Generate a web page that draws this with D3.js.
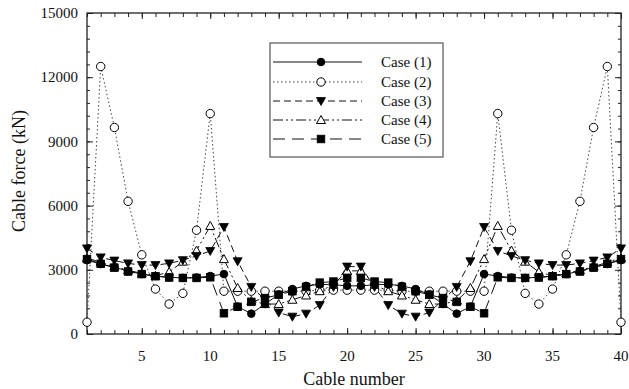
<!DOCTYPE html>
<html><head><meta charset="utf-8">
<script src="https://cdn.jsdelivr.net/npm/d3@7"></script>
<style>
body{margin:0;background:#fff;}
svg{display:block;}
text{font-family:"Liberation Serif","Times New Roman",serif;fill:#111;}
</style></head>
<body><svg id="c" width="629" height="389"></svg>
<script>
const cables = [1,2,3,4,5,6,7,8,9,10,11,12,13,14,15,16,17,18,19,20,21,22,23,24,25,26,27,28,29,30,31,32,33,34,35,36,37,38,39,40];
const case1 = [3450,3270,3120,2940,2800,2710,2650,2620,2640,2710,2800,1280,950,1400,1850,2100,2250,2320,2300,2250,2250,2300,2320,2250,2100,1850,1400,950,1280,2800,2710,2640,2620,2650,2710,2800,2940,3120,3270,3450];
const case2 = [550,12500,9650,6200,3700,2100,1400,1900,4850,10300,2000,2000,2000,2000,2000,2000,2000,2050,2050,2050,2050,2050,2050,2000,2000,2000,2000,2000,2000,2000,10300,4850,1900,1400,2100,3700,6200,9650,12500,550];
const case3 = [4000,3580,3430,3300,3220,3220,3300,3450,3650,3880,5000,3400,2200,1600,1000,810,950,1350,2200,3150,3150,2200,1350,950,810,1000,1600,2200,3400,5000,3880,3650,3450,3300,3220,3220,3300,3430,3580,4000];
const case4 = [3550,3350,3150,2980,2830,2720,2900,3380,3900,5050,3500,2150,1550,1400,1400,1600,1800,2000,2300,2950,2950,2300,2000,1800,1600,1400,1400,1550,2150,3500,5050,3900,3380,2900,2720,2830,2980,3150,3350,3550];
const case5 = [3500,3280,3100,2920,2800,2700,2640,2620,2620,2650,970,1270,1500,1680,1830,2000,2200,2400,2450,2620,2620,2450,2400,2200,2000,1830,1680,1500,1270,970,2650,2620,2620,2640,2700,2800,2920,3100,3280,3500];
const seriesNames = ["Case (1)","Case (2)","Case (3)","Case (4)","Case (5)"];
const yTicks = [0,3000,6000,9000,12000,15000];
const xTicks = [5,10,15,20,25,30,35,40];

const svg = d3.select("#c");
const L=87,R=621,T=13,B=334;
const x = d3.scaleLinear().domain([1,40]).range([L,R]);
const y = d3.scaleLinear().domain([0,15000]).range([B,T]);

const styles = [
  {data:case1, dash:null, marker:"circle", fill:"#000"},
  {data:case2, dash:"1.5,2.5", marker:"circle", fill:"#fff"},
  {data:case3, dash:"7,4", marker:"tridown", fill:"#000"},
  {data:case4, dash:"10,3,2,3,2,3", marker:"triup", fill:"#fff"},
  {data:case5, dash:"12,7", marker:"square", fill:"#000"}
];

// axes (ticks inward)
const minorY = d3.range(0,15001,600);
const minorX = cables;
function drawAxis(axis, tr, cls){
  const g = svg.append("g").attr("transform",tr).call(axis);
  g.select(".domain").remove();
  g.selectAll("line").attr("stroke","#222").attr("stroke-width",1);
  g.selectAll("text").remove();
  return g;
}
drawAxis(d3.axisBottom(x).tickValues(minorX).tickSize(-4), `translate(0,${B})`);
drawAxis(d3.axisBottom(x).tickValues(xTicks).tickSize(-6), `translate(0,${B})`);
drawAxis(d3.axisTop(x).tickValues(minorX).tickSize(-4), `translate(0,${T})`);
drawAxis(d3.axisTop(x).tickValues(xTicks).tickSize(-6), `translate(0,${T})`);
drawAxis(d3.axisLeft(y).tickValues(minorY).tickSize(-3), `translate(${L},0)`);
drawAxis(d3.axisLeft(y).tickValues(yTicks).tickSize(-6), `translate(${L},0)`);
drawAxis(d3.axisRight(y).tickValues(minorY).tickSize(-3), `translate(${R},0)`);
drawAxis(d3.axisRight(y).tickValues(yTicks).tickSize(-6), `translate(${R},0)`);

svg.append("rect").attr("x",L).attr("y",T).attr("width",R-L).attr("height",B-T)
  .attr("fill","none").attr("stroke","#222").attr("stroke-width",1.3);

// tick labels
svg.append("g").selectAll("text").data(yTicks).join("text")
  .attr("x",78).attr("y",d=>y(d)).attr("dy","0.35em").attr("text-anchor","end")
  .attr("font-size",15).text(d=>d);
svg.append("g").selectAll("text").data(xTicks).join("text")
  .attr("x",d=>x(d)).attr("y",361).attr("text-anchor","middle")
  .attr("font-size",15).text(d=>d);

svg.append("text").attr("x",(L+R)/2).attr("y",385).attr("text-anchor","middle")
  .attr("font-size",18).text("Cable number");
svg.append("text").attr("transform","translate(25,171) rotate(-90)").attr("text-anchor","middle")
  .attr("font-size",18).text("Cable force (kN)");

function marker(g, type, fill, cx, cy){
  if(type==="circle"){
    g.append("circle").attr("cx",cx).attr("cy",cy).attr("r",fill==="#fff"?4.2:3.8)
      .attr("fill",fill).attr("stroke","#000").attr("stroke-width",1);
  } else if(type==="square"){
    g.append("rect").attr("x",cx-3.8).attr("y",cy-3.8).attr("width",7.6).attr("height",7.6)
      .attr("fill",fill).attr("stroke","#000").attr("stroke-width",0.8);
  } else if(type==="tridown"){
    g.append("path").attr("d",`M${cx-4.5},${cy-3.5}L${cx+4.5},${cy-3.5}L${cx},${cy+4.5}Z`)
      .attr("fill",fill).attr("stroke","#000").attr("stroke-width",0.8);
  } else {
    g.append("path").attr("d",`M${cx-4.5},${cy+3.5}L${cx+4.5},${cy+3.5}L${cx},${cy-4.5}Z`)
      .attr("fill",fill).attr("stroke","#000").attr("stroke-width",1);
  }
}

const line = d3.line().x((d,i)=>x(cables[i])).y(d=>y(d));
const order = [1,3,2,4,0];
order.forEach(si=>{
  const s = styles[si];
  svg.append("path").datum(s.data).attr("d",line).attr("fill","none")
    .attr("stroke", si===1?"#444":"#111").attr("stroke-width",1)
    .attr("stroke-dasharray",s.dash);
});
order.forEach(si=>{
  const s = styles[si];
  const g = svg.append("g");
  s.data.forEach((v,i)=>marker(g,s.marker,s.fill,x(cables[i]),y(v)));
});

// legend
const lg = svg.append("g");
lg.append("rect").attr("x",270).attr("y",43).attr("width",173).attr("height",114)
  .attr("fill","#fff").attr("stroke","#555").attr("stroke-width",1.2);
const rowsY = [62,82,101,120,139];
styles.forEach((s,i)=>{
  const yy = rowsY[i];
  lg.append("line").attr("x1",273).attr("x2",362).attr("y1",yy).attr("y2",yy)
    .attr("stroke",i===1?"#444":"#111").attr("stroke-width",1).attr("stroke-dasharray",s.dash);
  marker(lg,s.marker,s.fill,321,yy);
  lg.append("text").attr("x",381).attr("y",yy).attr("dy","0.35em").attr("font-size",15).text(seriesNames[i]);
});
</script></body></html>
